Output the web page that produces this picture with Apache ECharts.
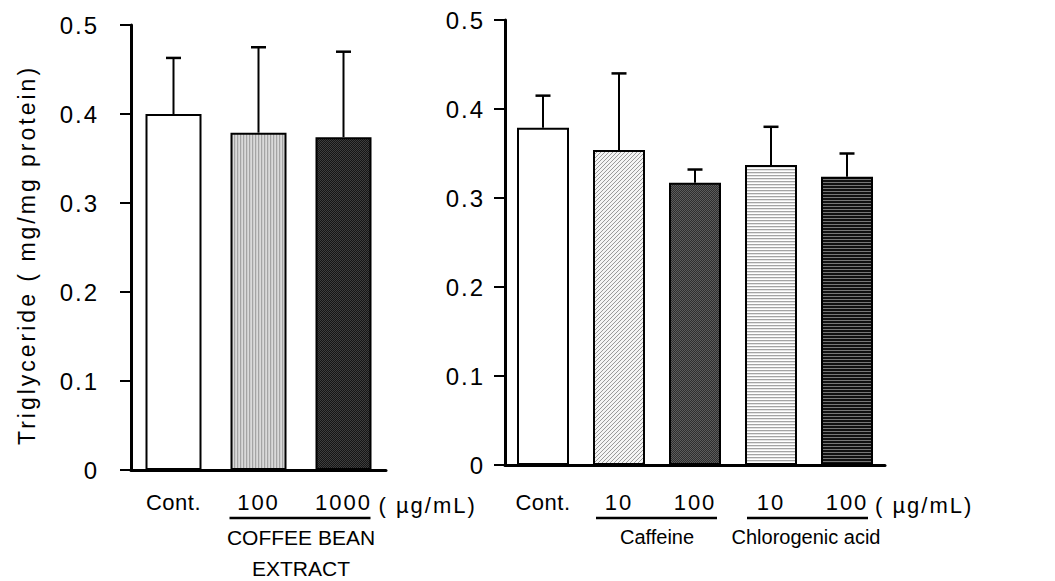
<!DOCTYPE html>
<html><head><meta charset="utf-8">
<script src="https://cdn.jsdelivr.net/npm/echarts@6/dist/echarts.min.js"></script>
<style>html,body{margin:0;padding:0;background:#fff}#c{width:1055px;height:581px}</style>
</head><body><div id="c"></div>
<script>
// ---- data ----
const leftCategories = ['Cont.', '100', '1000'];
const leftMeans = [0.400, 0.379, 0.374];
const leftErrors = [0.063, 0.096, 0.096];
const rightCategories = ['Cont.', '10', '100', '10', '100'];
const rightMeans = [0.379, 0.354, 0.317, 0.337, 0.324];
const rightErrors = [0.036, 0.086, 0.015, 0.043, 0.026];
const yTicks = ['0', '0.1', '0.2', '0.3', '0.4', '0.5'];
const yAxisTitle = 'Triglyceride ( mg/mg protein)';
const unitLabel = '( µg/mL)';
const leftGroupLabel = ['COFFEE BEAN', 'EXTRACT'];
const rightGroupLabels = ['Caffeine', 'Chlorogenic acid'];

const FONT = '"Liberation Sans", Arial, sans-serif';

function pat(w, h, draw) {
  const c = document.createElement('canvas');
  c.width = w; c.height = h;
  const g = c.getContext('2d');
  draw(g, w, h);
  return { image: c, repeat: 'repeat' };
}
function px(g, x, y, col) { g.fillStyle = col; g.fillRect(x, y, 1, 1); }

const white = '#ffffff';
const vStripes = pat(12, 12, (g, w, h) => {
  const cols = ['#a4a4a4', '#cdcdcd', '#dadada'];
  for (let x = 0; x < w; x++) { g.fillStyle = cols[x % 3]; g.fillRect(x, 0, 1, h); }
});
const darkCheckA = pat(12, 12, (g, w, h) => {
  g.fillStyle = '#151515'; g.fillRect(0, 0, w, h);
  for (let y = 0; y < h; y++) for (let x = 0; x < w; x++) if ((x + y) % 2 === 0) px(g, x, y, '#3e3e3e');
});
const diagHatch = pat(12, 12, (g, w, h) => {
  g.fillStyle = '#f4f4f4'; g.fillRect(0, 0, w, h);
  for (let y = 0; y < h; y++) for (let x = 0; x < w; x++) if ((x + y) % 4 === 0) px(g, x, y, '#9a9a9a');
});
const darkCheckB = pat(12, 12, (g, w, h) => {
  g.fillStyle = '#2e2e2e'; g.fillRect(0, 0, w, h);
  for (let y = 0; y < h; y++) for (let x = 0; x < w; x++) if ((x + y) % 2 === 0) px(g, x, y, '#5c5c5c');
});
const hLight = pat(12, 12, (g, w, h) => {
  const cols = ['#ffffff', '#a4a4a4', '#e4e4e4'];
  for (let y = 0; y < h; y++) { g.fillStyle = cols[y % 3]; g.fillRect(0, y, w, 1); }
});
const hDark = pat(12, 12, (g, w, h) => {
  const cols = ['#111111', '#111111', '#777777'];
  for (let y = 0; y < h; y++) { g.fillStyle = cols[y % 3]; g.fillRect(0, y, w, 1); }
});
const leftFills = [white, vStripes, darkCheckA];
const rightFills = [white, diagHatch, darkCheckB, hLight, hDark];

function errSeries(xi, means, errs) {
  return {
    type: 'custom', xAxisIndex: xi, yAxisIndex: xi, z: 1,
    encode: { x: 0, y: [1, 2] },
    data: means.map((m, i) => [i, m, m + errs[i]]),
    renderItem(params, api) {
      const b = api.coord([api.value(0), api.value(1)]);
      const t = api.coord([api.value(0), api.value(2)]);
      const cap = 7.5;
      return { type: 'group', children: [
        { type: 'line', shape: { x1: b[0], y1: b[1], x2: t[0], y2: t[1] }, style: { stroke: '#000', lineWidth: 2 } },
        { type: 'line', shape: { x1: t[0] - cap, y1: t[1], x2: t[0] + cap, y2: t[1] }, style: { stroke: '#000', lineWidth: 2.5 } }
      ] };
    }
  };
}

function xAxisCfg(gi, cats, margin) {
  return {
    type: 'category', gridIndex: gi, data: cats.map((c, i) => 'c' + i),
    axisLine: { show: true, lineStyle: { color: '#000', width: 3 } },
    axisTick: { show: false },
    axisLabel: { margin: margin, fontSize: 22, color: '#000', fontFamily: FONT,
      formatter: (v, i) => cats[i] }
  };
}
function yAxisCfg(gi, margin) {
  return {
    type: 'value', gridIndex: gi, min: 0, max: 0.5, interval: 0.1,
    axisLine: { show: true, lineStyle: { color: '#000', width: 3 } },
    axisTick: { show: true, length: 11, lineStyle: { color: '#000', width: 2 } },
    splitLine: { show: false },
    axisLabel: { margin: margin, fontSize: 24, color: '#000', fontFamily: FONT,
      formatter: v => yTicks[Math.round(v * 10)] }
  };
}

const chart = echarts.init(document.getElementById('c'), null, { renderer: 'svg' });
chart.setOption({
  animation: false,
  backgroundColor: '#fff',
  grid: [
    { left: 131, top: 25, width: 255, height: 445 },
    { left: 505, top: 20, width: 380, height: 445 }
  ],
  xAxis: [xAxisCfg(0, leftCategories, 21), xAxisCfg(1, rightCategories, 26)],
  yAxis: [yAxisCfg(0, 32), yAxisCfg(1, 20)],
  series: [
    { type: 'bar', xAxisIndex: 0, yAxisIndex: 0, barWidth: 56, z: 2,
      itemStyle: { borderColor: '#000', borderWidth: 2 },
      data: leftMeans.map((v, i) => ({ value: v, itemStyle: { color: leftFills[i] } })) },
    errSeries(0, leftMeans, leftErrors),
    { type: 'bar', xAxisIndex: 1, yAxisIndex: 1, barWidth: 52, z: 2,
      itemStyle: { borderColor: '#000', borderWidth: 2 },
      data: rightMeans.map((v, i) => ({ value: v, itemStyle: { color: rightFills[i] } })) },
    errSeries(1, rightMeans, rightErrors)
  ]
});

// annotation layer computed from the axes
const txt = (x, y, text, align, size, extra) => Object.assign({
  type: 'text', x: x, y: y, silent: true,
  style: { text: text, fontSize: size || 20, fontFamily: FONT, fill: '#000', align: align || 'center', verticalAlign: 'middle' }
}, extra || {});
const line = (x1, x2, y) => ({ type: 'line', silent: true, shape: { x1: x1, y1: y, x2: x2, y2: y }, style: { stroke: '#000', lineWidth: 2.5 } });
const L = i => chart.convertToPixel({ gridIndex: 0 }, [i, 0]);
const R = i => chart.convertToPixel({ gridIndex: 1 }, [i, 0]);
const lineY = 518, groupY = 537;
const l1 = L(1), l2 = L(2), r1 = R(1), r2 = R(2), r3 = R(3), r4 = R(4);
const gfx = [
  txt(27, 255, yAxisTitle, 'center', 23, { rotation: Math.PI / 2 }),
  line(l1[0] - 29, l2[0] + 27, lineY),
  txt((l1[0] + l2[0]) / 2, groupY, leftGroupLabel[0], 'center', 21),
  txt((l1[0] + l2[0]) / 2, groupY + 31, leftGroupLabel[1], 'center', 21),
  txt(l2[0] + 35, 505, unitLabel, 'left', 22),
  line(r1[0] - 23, r2[0] + 22, lineY),
  txt((r1[0] + r2[0]) / 2, groupY, rightGroupLabels[0], 'center', 20),
  line(r3[0] - 24, r4[0] + 21, lineY),
  txt((r3[0] + r4[0]) / 2 - 3, groupY, rightGroupLabels[1], 'center', 20),
  txt(r4[0] + 28, 505, unitLabel, 'left', 22)
];
chart.setOption({ graphic: gfx });

// letter spacing as in the reference typography
function applySpacing() {
  document.querySelectorAll('#c text').forEach(t => {
    const s = t.textContent;
    let ls = null;
    if (yTicks.includes(s)) ls = '2px';
    else if (s === yAxisTitle) ls = '3px';
    else if (s === unitLabel) ls = '2px';
    else if (s === 'Cont.') ls = '0.5px';
    else if (s === '10' || s === '100' || s === '1000') ls = '2px';
    if (ls) t.style.letterSpacing = ls;
  });
}
chart.on('finished', applySpacing);
applySpacing();
</script>
</body></html>
